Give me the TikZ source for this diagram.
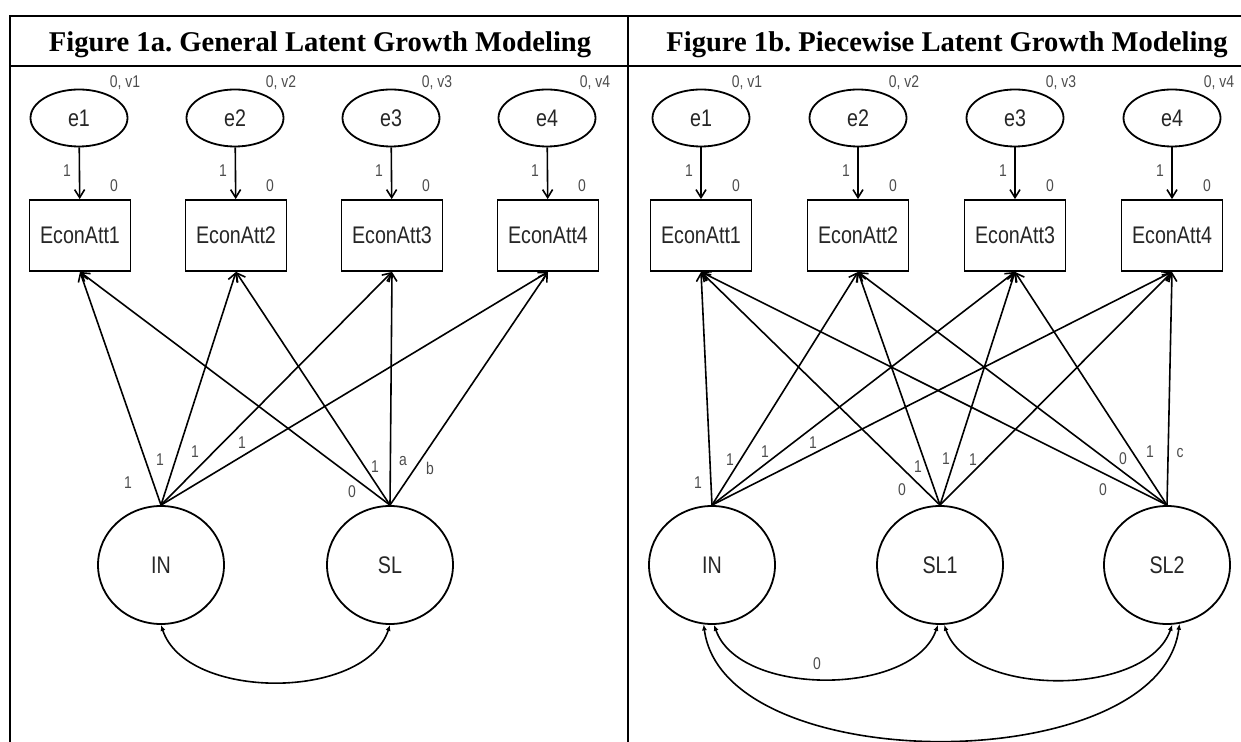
\documentclass[tikz,border=0pt]{standalone}
\usepackage{fontspec}
\setmainfont{Liberation Serif}
\newfontfamily\amos[FakeStretch=0.82]{Liberation Sans}
\usetikzlibrary{arrows.meta,shapes.geometric}
\frenchspacing

\begin{document}
\begin{tikzpicture}[x=.5pt,y=-.5pt,
    err/.style={draw,ellipse,line width=.9pt,inner sep=0pt,minimum width=48.5pt,minimum height=28.5pt,font=\amos\fontsize{12}{12}\selectfont,text=black!85},
    obs/.style={draw,line width=.9pt,inner sep=0pt,minimum width=50.5pt,minimum height=35.5pt,font=\amos\fontsize{12}{12}\selectfont,text=black!85},
    lat/.style={draw,ellipse,line width=.9pt,inner sep=0pt,minimum width=63pt,minimum height=59pt,font=\amos\fontsize{12}{12}\selectfont,text=black!85},
    lab/.style={inner sep=0pt,font=\amos\fontsize{8.5}{8.5}\selectfont,text=black!70},
    ld/.style={line width=.8pt,-{Straight Barb[length=4pt,width=5pt]}},
    cv/.style={line width=.8pt,{Latex[length=3pt,width=2.5pt]}-{Latex[length=3pt,width=2.5pt]}},
    ttl/.style={anchor=base,font=\bfseries\fontsize{14.3}{14.3}\selectfont}]
            \useasboundingbox (0,0) rectangle (1241,742);

            % table
            \draw[line width=1.4pt] (10,742) -- (10,16) -- (1241,16);
            \draw[line width=1.4pt] (628,16) -- (628,742);
            \draw[line width=.8pt] (10,66) -- (1241,66);
            \node[ttl] (ta) at (320,52) {Figure 1a. General Latent Growth Modeling};
            \node[ttl] (tb) at (947,52) {Figure 1b. Piecewise Latent Growth Modeling};

            % figure 1a
            \node[err] (ea1) at (79,118) {e1};
            \node[err] (ea2) at (235,118) {e2};
            \node[err] (ea3) at (391,118) {e3};
            \node[err] (ea4) at (547,118) {e4};
            \node[obs] (xa1) at (80,235.5) {EconAtt1};
            \node[obs] (xa2) at (236,235.5) {EconAtt2};
            \node[obs] (xa3) at (392,235.5) {EconAtt3};
            \node[obs] (xa4) at (548,235.5) {EconAtt4};
            \node[lat] (ina) at (161,565) {IN};
            \node[lat] (sla) at (390,565) {SL};

            \node[lab] (va1) at (125,83) {0, v1};
            \node[lab] (va2) at (281,83) {0, v2};
            \node[lab] (va3) at (437,83) {0, v3};
            \node[lab] (va4) at (595,83) {0, v4};
            \node[lab] (wa1) at (67,171) {1};
            \node[lab] (wa2) at (223,171) {1};
            \node[lab] (wa3) at (379,171) {1};
            \node[lab] (wa4) at (535,171) {1};
            \node[lab] (ma1) at (114,186) {0};
            \node[lab] (ma2) at (270,186) {0};
            \node[lab] (ma3) at (426,186) {0};
            \node[lab] (ma4) at (582,186) {0};

            \draw[ld] (ea1) -- (xa1);
            \draw[ld] (ea2) -- (xa2);
            \draw[ld] (ea3) -- (xa3);
            \draw[ld] (ea4) -- (xa4);

            \draw[ld] (ina.north) -- (xa1.south);
            \draw[ld] (ina.north) -- (xa2.south);
            \draw[ld] (ina.north) -- (xa3.south);
            \draw[ld] (ina.north) -- (xa4.south);
            \draw[ld] (sla.north) -- (xa1.south);
            \draw[ld] (sla.north) -- (xa2.south);
            \draw[ld] (sla.north) -- (xa3.south);
            \draw[ld] (sla.north) -- (xa4.south);

            \node[lab] (ia1) at (128,483) {1};
            \node[lab] (ia2) at (160,460) {1};
            \node[lab] (ia3) at (195,452) {1};
            \node[lab] (ia4) at (242,443) {1};
            \node[lab] (sa1) at (352,492) {0};
            \node[lab] (sa2) at (375,467) {1};
            \node[lab] (sa3) at (403,461) {a};
            \node[lab] (sa4) at (430,468) {b};

            \draw[cv] (ina.south) .. controls +(25,76) and +(-25,76) .. (sla.south);

            % figure 1b
            \node[err] (eb1) at (701,118) {e1};
            \node[err] (eb2) at (858,118) {e2};
            \node[err] (eb3) at (1015,118) {e3};
            \node[err] (eb4) at (1172,118) {e4};
            \node[obs] (xb1) at (701,235.5) {EconAtt1};
            \node[obs] (xb2) at (858,235.5) {EconAtt2};
            \node[obs] (xb3) at (1015,235.5) {EconAtt3};
            \node[obs] (xb4) at (1172,235.5) {EconAtt4};
            \node[lat] (inb) at (712,565) {IN};
            \node[lat] (slb1) at (940,565) {SL1};
            \node[lat] (slb2) at (1167,565) {SL2};

            \node[lab] (vb1) at (747,83) {0, v1};
            \node[lab] (vb2) at (904,83) {0, v2};
            \node[lab] (vb3) at (1061,83) {0, v3};
            \node[lab] (vb4) at (1219,83) {0, v4};
            \node[lab] (wb1) at (689,171) {1};
            \node[lab] (wb2) at (846,171) {1};
            \node[lab] (wb3) at (1003,171) {1};
            \node[lab] (wb4) at (1160,171) {1};
            \node[lab] (mb1) at (736,186) {0};
            \node[lab] (mb2) at (893,186) {0};
            \node[lab] (mb3) at (1050,186) {0};
            \node[lab] (mb4) at (1207,186) {0};

            \draw[ld] (eb1) -- (xb1);
            \draw[ld] (eb2) -- (xb2);
            \draw[ld] (eb3) -- (xb3);
            \draw[ld] (eb4) -- (xb4);

            \draw[ld] (inb.north) -- (xb1.south);
            \draw[ld] (inb.north) -- (xb2.south);
            \draw[ld] (inb.north) -- (xb3.south);
            \draw[ld] (inb.north) -- (xb4.south);
            \draw[ld] (slb1.north) -- (xb1.south);
            \draw[ld] (slb1.north) -- (xb2.south);
            \draw[ld] (slb1.north) -- (xb3.south);
            \draw[ld] (slb1.north) -- (xb4.south);
            \draw[ld] (slb2.north) -- (xb1.south);
            \draw[ld] (slb2.north) -- (xb2.south);
            \draw[ld] (slb2.north) -- (xb3.south);
            \draw[ld] (slb2.north) -- (xb4.south);

            \node[lab] (ib1) at (698,483) {1};
            \node[lab] (ib2) at (730,460) {1};
            \node[lab] (ib3) at (765,452) {1};
            \node[lab] (ib4) at (813,443) {1};
            \node[lab] (sb1) at (902,490) {0};
            \node[lab] (sb2) at (918,467) {1};
            \node[lab] (sb3) at (946,459) {1};
            \node[lab] (sb4) at (973,460) {1};
            \node[lab] (tb1) at (1103,490) {0};
            \node[lab] (tb2) at (1123,459) {0};
            \node[lab] (tb3) at (1150,452) {1};
            \node[lab] (tb4) at (1180,453) {c};

            \draw[cv] (inb.272) .. controls +(25,72) and +(-25,72) .. (slb1.268);
            \draw[cv] (slb1.274) .. controls +(25,73) and +(-25,73) .. (slb2.275);
            \draw[cv] (inb.262) .. controls +(20,155) and +(-20,155) .. (slb2.282);
            \node[lab] (cb) at (817,664) {0};
        \end{tikzpicture}
\end{document}
